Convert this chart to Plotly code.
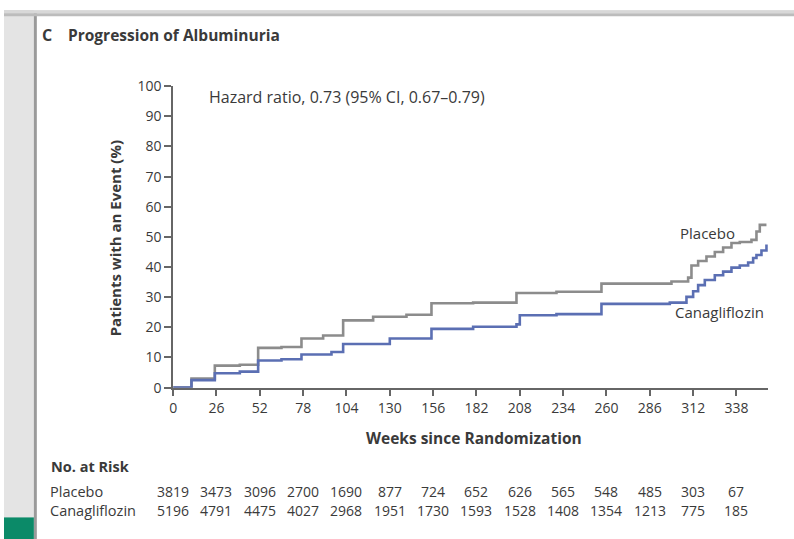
import plotly.graph_objects as go

# ---- data ----
placebo_weeks = [0, 11, 25, 40, 51, 65, 77, 90, 102, 120, 140, 155, 180, 206, 230, 257, 299, 309, 311, 315, 320, 325, 330, 335, 340, 347, 350, 352, 356]
placebo_pct   = [0, 3.0, 7.3, 7.6, 13.2, 13.5, 16.3, 17.3, 22.3, 23.5, 24.2, 28.0, 28.2, 31.4, 31.8, 34.5, 35.2, 36.5, 40.5, 42.0, 43.5, 45.0, 46.5, 48.0, 48.3, 49.0, 51.8, 54.0, 54.0]

cana_weeks = [0, 11, 25, 40, 51, 65, 77, 95, 102, 130, 155, 180, 206, 208, 230, 257, 298, 308, 312, 315, 319, 325, 330, 335, 340, 345, 348, 350, 353, 356]
cana_pct   = [0, 2.5, 4.8, 5.3, 9.0, 9.4, 11.0, 11.8, 14.5, 16.3, 19.5, 20.2, 21.0, 24.0, 24.4, 27.8, 28.2, 30.1, 32.0, 34.0, 35.7, 37.3, 38.5, 39.8, 40.5, 41.5, 43.0, 44.0, 45.5, 47.5]

x_ticks = [0, 26, 52, 78, 104, 130, 156, 182, 208, 234, 260, 286, 312, 338]
y_ticks = [0, 10, 20, 30, 40, 50, 60, 70, 80, 90, 100]

risk_placebo = [3819, 3473, 3096, 2700, 1690, 877, 724, 652, 626, 565, 548, 485, 303, 67]
risk_cana    = [5196, 4791, 4475, 4027, 2968, 1951, 1730, 1593, 1528, 1408, 1354, 1213, 775, 185]

# page geometry (empirically calibrated to the capture)
SY, OY = 0.967, 9
W, H = 794, 548
FONT = "Open Sans"
TXT = "#3a3a3a"
GRAY = "#8c8c8c"
BLUE = "#5b6fb3"

def px(xp):  # target pixel -> paper fraction
    return xp / W

def py(yp):
    return 1 - (yp / SY - OY) / H

fig = go.Figure()
fig.add_trace(go.Scatter(x=placebo_weeks, y=placebo_pct, mode="lines", line=dict(color=GRAY, width=2.6, shape="hv"),
                         name="Placebo", showlegend=False, hoverinfo="skip"))
fig.add_trace(go.Scatter(x=cana_weeks, y=cana_pct, mode="lines", line=dict(color=BLUE, width=2.6, shape="hv"),
                         name="Canagliflozin", showlegend=False, hoverinfo="skip"))

fig.update_layout(
    width=W, height=H,
    margin=dict(l=0, r=0, t=0, b=0),
    paper_bgcolor="white", plot_bgcolor="white",
    font=dict(family=FONT, color=TXT, size=14),
    xaxis=dict(domain=[px(170), px(768)], range=[0, 357], tickvals=x_ticks, ticks="outside", ticklen=7,
               tickcolor="#666", tickwidth=1.5, showline=True, linecolor="#666", linewidth=1.6, showgrid=False, zeroline=False,
               tickfont=dict(size=14, color=TXT, family=FONT), fixedrange=True),
    yaxis=dict(domain=[py(387), py(85)], range=[0, 100], tickvals=y_ticks, ticks="outside", ticklen=7,
               tickcolor="#666", tickwidth=1.5, showline=True, linecolor="#666", linewidth=1.6, showgrid=False, zeroline=False,
               tickfont=dict(size=14, color=TXT, family=FONT), fixedrange=True),
)

ann = []
def add_text(text, x, y, xanchor="left", size=14, bold=False, xref="paper", textangle=0, color=TXT, pad=1):
    ann.append(dict(text=f"<b>{text}</b>" if bold else text, x=x, y=y, xref=xref, yref="paper",
                    xanchor=xanchor, yanchor="middle", showarrow=False, textangle=textangle, borderpad=pad,
                    font=dict(size=size, color=color, family=FONT)))

add_text("C", px(36), py(34), size=16, bold=True)
add_text("Progression of Albuminuria", px(62), py(34), size=15.5, bold=True)
add_text("Hazard ratio, 0.73 (95% CI, 0.67\u20130.79)", px(204), py(96), size=16)
add_text("Patients with an Event (%)", px(111), py(237), xanchor="center", size=15, bold=True, textangle=-90)
add_text("Weeks since Randomization", px(472), py(437), xanchor="center", size=15.5, bold=True)
add_text("Placebo", px(707), py(232), xanchor="center", size=15)
add_text("Canagliflozin", px(719), py(311), xanchor="center", size=15)
add_text("No. at Risk", px(45), py(466), size=14.5, bold=True)
add_text("Placebo", px(45), py(491), size=14.5, pad=0)
add_text("Canagliflozin", px(45), py(510), size=14.5, pad=0)
for wk, a, b in zip(x_ticks, risk_placebo, risk_cana):
    add_text(str(a), wk, py(491), xanchor="center", xref="x", size=14, pad=0)
    add_text(str(b), wk, py(510), xanchor="center", xref="x", size=14, pad=0)
fig.update_layout(annotations=ann)

# slide frame decorations
shapes = [
    dict(type="rect", xref="paper", yref="paper", x0=0, x1=1, y0=py(9), y1=1, fillcolor="#a0a0a0", line_width=0, layer="above"),
    dict(type="rect", xref="paper", yref="paper", x0=0, x1=1, y0=py(12), y1=py(9), fillcolor="#d8d8d8", line_width=0, layer="above"),
    dict(type="rect", xref="paper", yref="paper", x0=0, x1=1, y0=py(15), y1=py(12), fillcolor="#bcbcbc", line_width=0, layer="above"),
    dict(type="rect", xref="paper", yref="paper", x0=0, x1=px(30), y0=0, y1=py(9), fillcolor="#e4e4e4", line_width=0, layer="below"),
    dict(type="rect", xref="paper", yref="paper", x0=px(30), x1=px(33), y0=0, y1=py(12), fillcolor="#9a9a9a", line_width=0, layer="below"),
    dict(type="rect", xref="paper", yref="paper", x0=0, x1=px(30), y0=0, y1=py(517), fillcolor="#0b8a68", line_width=0, layer="above"),
]
fig.update_layout(shapes=shapes)

fig.write_html("out.html",
               config={"displayModeBar": False},
               post_script="document.documentElement.style.margin='0';document.body.style.margin='0';"
                           "document.body.style.padding='0';document.body.style.overflow='hidden';")
